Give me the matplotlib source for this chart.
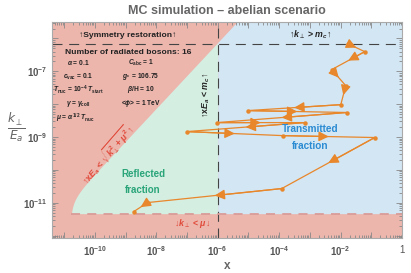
import numpy as np
import matplotlib
matplotlib.use("Agg")
import matplotlib.pyplot as plt
from matplotlib.ticker import LogLocator, FuncFormatter, NullFormatter

# path of the radiated boson in (x, k_perp/E_a), first point at the top
path_x = [1.72e-2, 6.14e-2, 5.16e-3, 1.48e-2, 1.02e-2, 9.5e-6, 1.59e-2, 9.3e-7,
          6.8e-4, 9.8e-8, 1.31e-4, 0.130, 1.22e-4, 5.25e-9, 1.84e-9]
path_y = [6.95e-7, 3.97e-7, 1.13e-7, 3.67e-8, 9.7e-9, 6.4e-9, 5.6e-9, 2.76e-9,
          2.76e-9, 1.47e-9, 1.11e-9, 9.7e-10, 2.72e-11, 1.02e-11, 5.4e-12]

# region boundaries
x_mc = 1e-6          # x E_a = m_c
y_mc = 6.9e-7        # k_perp = m_c
y_mu = 4.7e-12       # k_perp = mu
mu_edge = 1.62e-11   # reflection edge  x E_a = sqrt(k^2 + mu^2)
edge_scale = 0.75
xlim = (10 ** -11.4, 1.0)
ylim = (10 ** -12.06, 10 ** -5.49)

params_left = [r"$\alpha$ = 0.1", r"$c_{\rm vac}$ = 0.1", r"$T_{\rm nuc}$ = 10$^{-4}$ $T_{\rm start}$",
               r"$\gamma$ = $\gamma_{\rm coll}$"]
params_right = [r"$C_{\rm abc}$ = 1", r"$g_*$ = 106.75", r"$\beta$/H = 10", r"<$\phi$> = 1 TeV"]

PINK = "#ecb6ad"
GREEN = "#d5eee2"
BLUE = "#d3e6f3"
ORANGE = "#e8872b"
GRAY = "#666666"

plt.rcParams["font.family"] = ["Liberation Sans", "DejaVu Sans"]
plt.rcParams["mathtext.fontset"] = "custom"
plt.rcParams["mathtext.rm"] = "Liberation Sans:bold"
plt.rcParams["mathtext.it"] = "Liberation Sans:italic:bold"
plt.rcParams["mathtext.bf"] = "Liberation Sans:bold"
plt.rcParams["mathtext.sf"] = "Liberation Sans:bold"

fig = plt.figure(figsize=(4.11, 2.73), dpi=100)
ax = fig.add_axes([0.126, 0.1293, 0.852, 0.7912])
ax.set_xscale("log")
ax.set_yscale("log")
ax.set_xlim(*xlim)
ax.set_ylim(*ylim)
ax.set_facecolor(PINK)

# ── regions ────────────────────────────────────────────────
x_start = np.sqrt((y_mu / edge_scale) ** 2 + mu_edge ** 2)
xs = np.unique(np.concatenate([np.logspace(np.log10(x_start), 0, 800), [x_mc]]))
upper = np.minimum(edge_scale * np.sqrt(np.clip(xs ** 2 - mu_edge ** 2, 0, None)), ylim[1] * 1.05)
m = xs <= x_mc
ax.fill_between(xs[m], y_mu, upper[m], color=GREEN, lw=0, zorder=1)
m = xs >= x_mc
ax.fill_between(xs[m], y_mu, upper[m], color=BLUE, lw=0, zorder=1)

# ── boundary lines ─────────────────────────────────────────
ax.axhline(y_mc, color="#444444", lw=0.8, ls=(0, (9, 6)), zorder=2)
ax.axvline(x_mc, color="#444444", lw=0.8, ls=(0, (9, 6)), zorder=2)
ax.plot([x_start, xlim[1]], [y_mu, y_mu], color="#d99c98", lw=1.3, ls=(0, (5, 4)), zorder=2)

# ── MC path ────────────────────────────────────────────────
ax.plot(path_x, path_y, color=ORANGE, lw=0.9, marker="o", ms=2.2, zorder=4)
for i in range(len(path_x) - 1):
    xm = np.sqrt(path_x[i] * path_x[i + 1])
    ym = np.sqrt(path_y[i] * path_y[i + 1])
    ax.annotate("", xy=(xm, ym), xytext=(path_x[i], path_y[i]),
                arrowprops=dict(arrowstyle="-|>,head_length=0.6,head_width=0.3",
                                color=ORANGE, lw=0.9, shrinkA=0, shrinkB=0,
                                mutation_scale=10), zorder=5)

# ── annotations ────────────────────────────────────────────
kw = dict(transform=ax.transAxes, ha="center", va="center", zorder=6)
ax.text(0.218, 0.938, "↑Symmetry restoration↑", fontsize=6.1, fontweight="bold", color="#222222", **kw)
ax.text(0.218, 0.856, "Number of radiated bosons: 16", fontsize=6.1, fontweight="bold", color="#222222", **kw)
rows = [0.809, 0.744, 0.684, 0.619]
for yy, tl, tr in zip(rows, params_left, params_right):
    ax.text(0.075, yy, tl, fontsize=4.8, fontweight="bold", color="#222222", **kw)
    ax.text(0.255, yy, tr, fontsize=4.8, fontweight="bold", color="#222222", **kw)
ax.text(0.068, 0.554, r"$\mu$ = $\alpha^{1/2}$ $T_{\rm nuc}$", fontsize=4.8, fontweight="bold",
        color="#222222", **kw)
ax.text(0.737, 0.938, r"↑$k_\perp$ > $m_c$↑", fontsize=6.3, fontweight="bold", color="#222222", **kw)
ax.text(0.441, 0.66, r"↑x$E_a$ < $m_c$↑", fontsize=6.3, fontweight="bold", color="#222222",
        rotation=90, **kw)
ax.text(0.261, 0.295, "Reflected", fontsize=7, fontweight="bold", color="#2aa57a", **kw)
ax.text(0.261, 0.22, "fraction", fontsize=7, fontweight="bold", color="#2aa57a", **kw)
ax.text(0.738, 0.503, "Transmitted", fontsize=7.2, fontweight="bold", color="#2b8bd3", **kw)
ax.text(0.738, 0.424, "fraction", fontsize=7.2, fontweight="bold", color="#2b8bd3", **kw)
ax.text(0.401, 0.068, r"↓$k_\perp$ < $\mu$↓", fontsize=6.3, fontweight="bold", color="#e04a3a", **kw)
ax.text(0.16, 0.385, r"↑x$E_a$ < $\sqrt{k_\perp^2 + \mu^2}$↑", fontsize=6.5, fontweight="bold",
        color="#e04a3a", rotation=49, rotation_mode="anchor", **kw)

# ── axes styling ───────────────────────────────────────────
def xfmt(v, pos):
    if v < xlim[0] or v > xlim[1] * 1.001:
        return ""
    e = int(round(np.log10(v)))
    if e == 0:
        return "1"
    return rf"$10^{{{e}}}$" if e % 2 == 0 else ""


def yfmt(v, pos):
    if v < ylim[0] or v > ylim[1]:
        return ""
    e = int(round(np.log10(v)))
    return rf"$10^{{{e}}}$" if e % 2 else ""


for axis in (ax.xaxis, ax.yaxis):
    axis.set_major_locator(LogLocator(base=10, numticks=30))
    axis.set_minor_locator(LogLocator(base=10, subs=np.arange(2, 10), numticks=30))
    axis.set_minor_formatter(NullFormatter())
ax.xaxis.set_major_formatter(FuncFormatter(xfmt))
ax.yaxis.set_major_formatter(FuncFormatter(yfmt))
ax.tick_params(which="both", direction="in", top=True, right=True, color="#888888",
               labelsize=7, labelcolor="#555555", width=0.6)
ax.tick_params(which="major", length=4)
ax.tick_params(which="minor", length=2)
ax.tick_params(axis="x", pad=5)
ax.tick_params(axis="y", pad=3)
for s in ax.spines.values():
    s.set_color("#aaaaaa")
    s.set_linewidth(0.8)

ax.set_title("MC simulation – abelian scenario", fontsize=9, fontweight="bold", color=GRAY, pad=5.5)
fig.text(227 / 411, 1 - 266 / 273, "x", fontsize=8.5, fontweight="bold", color=GRAY, ha="center", va="center")
fig.text(16 / 411, 1 - 128 / 273, r"$\frac{k_\perp}{E_a}$", fontsize=12.5, color=GRAY,
         ha="center", va="center", math_fontfamily="dejavusans")

fig.savefig("out.png", dpi=100)
